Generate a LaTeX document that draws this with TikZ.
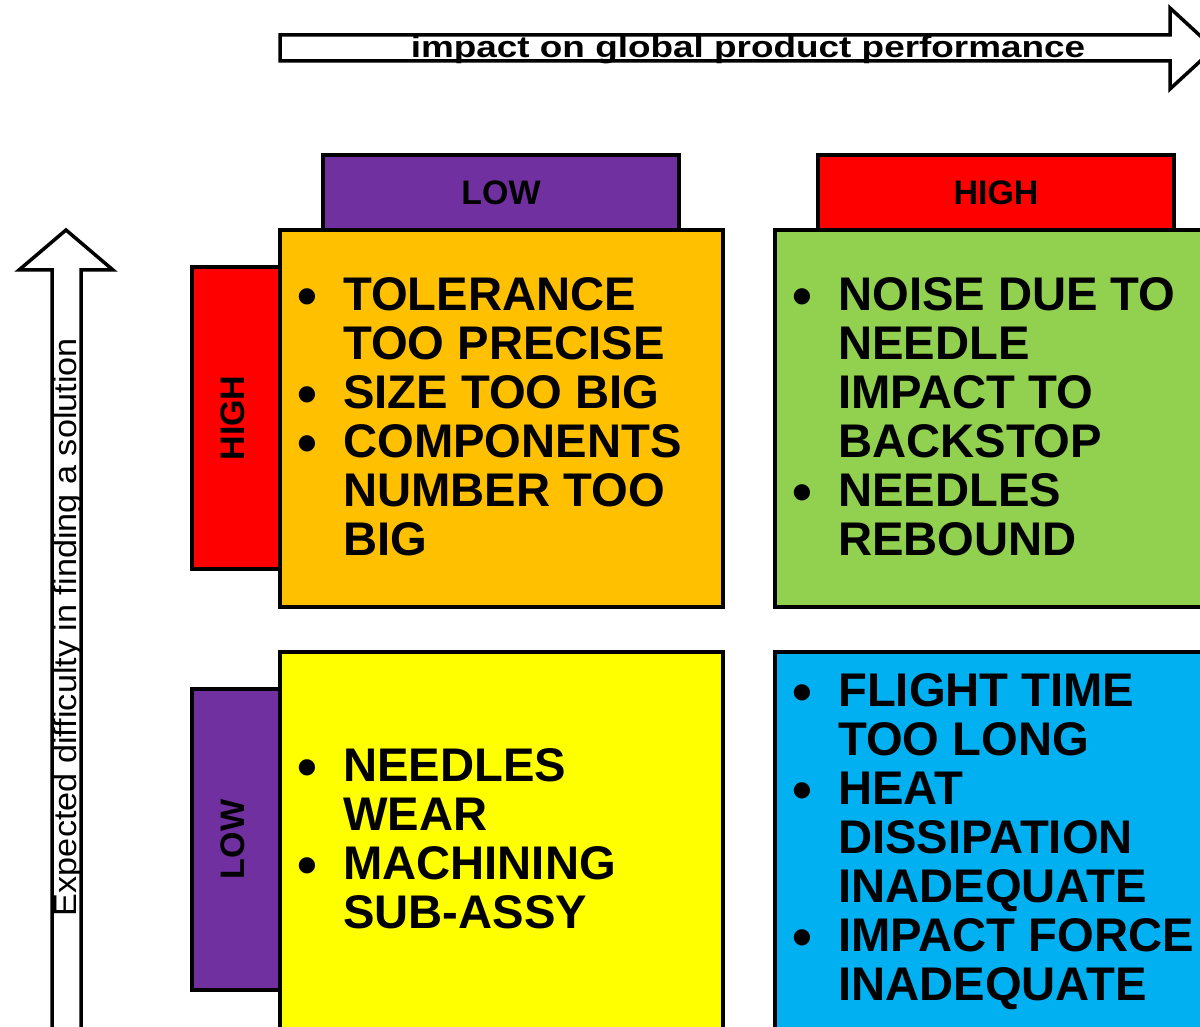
\documentclass[tikz,border=0pt]{standalone}
\usepackage{fontspec}
\setmainfont{Liberation Sans}
\definecolor{cpurple}{HTML}{7030A0}
\definecolor{cred}{HTML}{FF0000}
\definecolor{corange}{HTML}{FFC000}
\definecolor{cgreen}{HTML}{92D050}
\definecolor{cyellow}{HTML}{FFFF00}
\definecolor{cblue}{HTML}{00B0F0}
\newcommand{\bul}{\makebox[46pt][l]{\hspace*{0pt}\raisebox{-5pt}[0pt][0pt]{\scalebox{1.2}{\textbullet}}}}
\newcommand{\ind}{\hspace*{46pt}}
\begin{document}
\begin{tikzpicture}[x=1pt,y=-1pt,
  box/.style={draw=black,line width=3.5pt,rectangle,inner sep=0pt,outer sep=0pt,anchor=north west,line join=miter},
  tab/.style={box},
  itemtext/.style={anchor=north west,inner sep=0pt,align=left,font=\fontsize{47.2}{49}\selectfont\bfseries},
  headtext/.style={inner sep=0pt,font=\fontsize{34}{40}\selectfont\bfseries},
  arrowshape/.style={draw=black,line width=3.5pt,fill=white,line join=miter}]
\useasboundingbox (0,0) rectangle (1200,1027);
\clip (0,0) rectangle (1200,1027);
% top arrow
\draw[arrowshape] (280,35) -- (1170,35) -- (1170,8) -- (1214,48.5) -- (1170,89) -- (1170,61) -- (280,61) -- cycle;
\node[inner sep=0pt,font=\fontsize{31}{36}\selectfont\bfseries] (toplabel) at (748,50) {\scalebox{1.19}[0.97]{impact on global product performance}};
% left arrow
\draw[arrowshape] (52,1060) -- (52,270) -- (19,270) -- (66,230) -- (113,270) -- (81,270) -- (81,1060) -- cycle;
\node[inner sep=0pt,rotate=90,font=\fontsize{32}{36}\selectfont] (leftlabel) at (68,627) {\scalebox{1.07}[1]{Expected difficulty in finding a solution}};
% header tabs
\node[tab,fill=cpurple,minimum width=356pt,minimum height=75pt] (lowtop) at (323,155) {};
\node[tab,fill=cred,minimum width=356pt,minimum height=75pt] (hightop) at (818,155) {};
\node[tab,fill=cred,minimum width=88pt,minimum height=302pt] (highleft) at (192,267) {};
\node[tab,fill=cpurple,minimum width=88pt,minimum height=301pt] (lowleft) at (192,689) {};
\node[headtext] (lowtoptext) at (lowtop.center) {LOW};
\node[headtext] (hightoptext) at (hightop.center) {HIGH};
\node[headtext,rotate=90] (highlefttext) at ([xshift=-3pt]highleft.center) {HIGH};
\node[headtext,rotate=90] (lowlefttext) at ([xshift=-3pt]lowleft.center) {LOW};
% quadrants
\node[box,fill=corange,minimum width=443pt,minimum height=377pt] (q1) at (280,230) {};
\node[box,fill=cgreen,minimum width=460pt,minimum height=377pt] (q2) at (775,230) {};
\node[box,fill=cyellow,minimum width=443pt,minimum height=420pt] (q3) at (280,652) {};
\node[box,fill=cblue,minimum width=460pt,minimum height=420pt] (q4) at (775,652) {};
% texts
\node[itemtext] (t1) at (297,277) {\bul TOLERANCE\\\ind TOO PRECISE\\\bul SIZE TOO BIG\\\bul COMPONENTS\\\ind NUMBER TOO\\\ind BIG};
\node[itemtext] (t2) at (792,277) {\bul NOISE DUE TO\\\ind NEEDLE\\\ind IMPACT TO\\\ind BACKSTOP\\\bul NEEDLES\\\ind REBOUND};
\node[itemtext] (t3) at (297,748) {\bul NEEDLES\\\ind WEAR\\\bul MACHINING\\\ind SUB-ASSY};
\node[itemtext] (t4) at (792,673) {\bul FLIGHT TIME\\\ind TOO LONG\\\bul HEAT\\\ind DISSIPATION\\\ind INADEQUATE\\\bul IMPACT FORCE\\\ind INADEQUATE};
\end{tikzpicture}
\end{document}
